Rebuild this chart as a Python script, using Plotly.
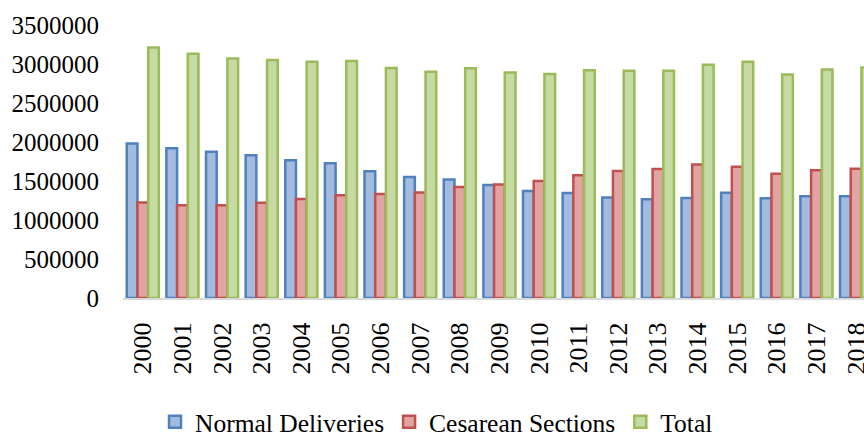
import plotly.graph_objects as go

years = [str(y) for y in range(2000, 2019)]
normal = [1980000, 1920000, 1876000, 1830000, 1765000, 1726000, 1624000, 1551000, 1518000,
          1449000, 1372000, 1346000, 1290000, 1266000, 1283000, 1350000, 1279000, 1304000, 1304000]
cesarean = [1224000, 1190000, 1190000, 1222000, 1270000, 1317000, 1334000, 1351000, 1423000,
            1454000, 1500000, 1573000, 1628000, 1653000, 1710000, 1684000, 1594000, 1637000, 1658000]
total = [3210000, 3130000, 3070000, 3050000, 3030000, 3040000, 2950000, 2900000, 2945000,
         2890000, 2873000, 2920000, 2915000, 2915000, 2990000, 3030000, 2864000, 2930000, 2954000]
y_ticks = [0, 500000, 1000000, 1500000, 2000000, 2500000, 3000000, 3500000]

FONT = "Liberation Serif, Times New Roman, serif"

fig = go.Figure()
series = [
    ("Normal Deliveries", normal, "#a3bbdf", "#4f81bd"),
    ("Cesarean Sections", cesarean, "#e2a4a3", "#c0504d"),
    ("Total", total, "#c6daa4", "#9bbb59"),
]
for name, vals, fill, line in series:
    fig.add_trace(go.Bar(
        name=name, x=years, y=vals,
        marker=dict(color=fill, line=dict(color=line, width=2.5)),
    ))

W, H = 864, 437
L, T, B = 123, 25, 138.5
fig.update_layout(
    width=W, height=H,
    barmode="group", bargap=0.19, bargroupgap=0,
    plot_bgcolor="white", paper_bgcolor="white",
    margin=dict(l=L, r=0, t=T, b=B, autoexpand=False),
    font=dict(family=FONT, size=25, color="black"),
    showlegend=True,
    legend=dict(orientation="h", x=(155 - L) / (W - L), xanchor="left",
                y=-(423 - (H - B)) / (H - B - T), yanchor="middle",
                font=dict(family=FONT, size=25.5), itemwidth=30, traceorder="normal",
                bgcolor="rgba(0,0,0,0)"),
    xaxis=dict(type="category", range=[-0.5, 18.2], showline=True, linecolor="#d9d9d9",
               linewidth=2, ticks="", tickangle=-90, ticklabelstandoff=12, automargin=False,
               tickfont=dict(family=FONT, size=26), showgrid=False, fixedrange=True),
    yaxis=dict(range=[0, 3500000], tickvals=y_ticks, ticktext=[str(v) for v in y_ticks],
               showgrid=False, zeroline=False, showline=False, ticks="", automargin=False,
               ticklabelstandoff=23, tickfont=dict(family=FONT, size=25)),
)

fig.write_html("out.html", config={"displayModeBar": False},
               post_script="document.body.style.margin='0';document.body.style.overflow='hidden';")
